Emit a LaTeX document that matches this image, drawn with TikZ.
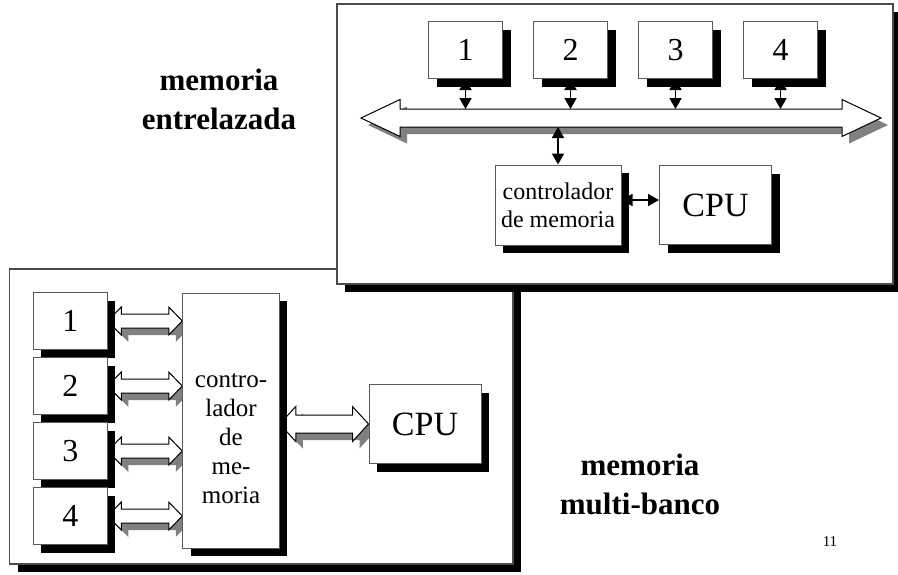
\documentclass[tikz,border=0pt]{standalone}
\usepackage{fontspec}
\setmainfont{Liberation Serif}
\usetikzlibrary{positioning,calc,shadows,arrows.meta}
\pgfdeclarelayer{panels}
\pgfdeclarelayer{wires}
\pgfsetlayers{panels,wires,main}
\tikzset{
  panel/.style={draw=black!70, fill=white, line width=.6pt, inner sep=0pt,
    drop shadow={shadow xshift=4.2pt, shadow yshift=-4.2pt, fill=black, opacity=1}},
  box/.style={draw=black!65, fill=white, line width=.5pt, inner sep=0pt, align=center,
    drop shadow={shadow xshift=4pt, shadow yshift=-4pt, fill=black, opacity=1}},
  mem/.style={box, minimum width=37pt, minimum height=28.5pt, font=\fontsize{16}{18}\selectfont},
  cpu/.style={box, minimum width=56pt, minimum height=39.5pt, font=\fontsize{17}{19}\selectfont},
  dart/.style={line width=.9pt, {Triangle[width=6pt,length=5.5pt]}-{Triangle[width=6pt,length=5.5pt]}},
  title/.style={align=center, font=\fontsize{15.5}{19.5}\selectfont\bfseries},
}
\newcommand\fatarrow[6]{%
  \fill[black!50] let \p1=($(#1)+(#6,-#6)$), \p2=($(#2)+(#6,-#6)$) in
    (\x1,\y1) -- (\x1+#5,\y1+#4) -- (\x1+#5,\y1+#3) -- (\x2-#5,\y1+#3) -- (\x2-#5,\y1+#4)
    -- (\x2,\y1) -- (\x2-#5,\y1-#4) -- (\x2-#5,\y1-#3) -- (\x1+#5,\y1-#3) -- (\x1+#5,\y1-#4) -- cycle;
  \draw[fill=white, line width=.5pt] let \p1=(#1), \p2=(#2) in
    (\x1,\y1) -- (\x1+#5,\y1+#4) -- (\x1+#5,\y1+#3) -- (\x2-#5,\y1+#3) -- (\x2-#5,\y1+#4)
    -- (\x2,\y1) -- (\x2-#5,\y1-#4) -- (\x2-#5,\y1-#3) -- (\x1+#5,\y1-#3) -- (\x1+#5,\y1-#4) -- cycle;
}

\begin{document}
\begin{tikzpicture}[x=.5pt, y=-.5pt]
  \useasboundingbox (0,0) rectangle (898,574);
  \begin{pgfonlayer}{panels}
    \node[panel, minimum width=251.75pt, minimum height=147.5pt] (multi) at (261.25,416.5) {};
    \node[panel, minimum width=278pt, minimum height=140pt] (entre) at (615,144) {};
  \end{pgfonlayer}

  \node[title] (t1) at (219,99) {memoria\\entrelazada};
  \node[title] (t2) at (640,484) {memoria\\multi-banco};
  \node[font=\fontsize{7.5}{9}\selectfont] (page) at (830,542) {11};

  % entrelazada
  \node[mem] (u1) at (465.5,50) {1};
  \node[mem, right=15pt of u1] (u2) {2};
  \node[mem, right=15pt of u2] (u3) {3};
  \node[mem, right=15pt of u3] (u4) {4};
  \node[box, minimum width=63pt, minimum height=40pt, font=\fontsize{12}{14}\selectfont] (uctl) at (558,205) {controlador\\de memoria};
  \node[cpu, right=18.75pt of uctl] (ucpu) {CPU};
  \coordinate (busl) at (361,118);
  \coordinate (busr) at (881,118);

  \begin{pgfonlayer}{wires}
    \fatarrow{busl}{busr}{4.5pt}{9.25pt}{19.5pt}{3.5pt}
    \foreach \i in {1,...,4}
      \draw[dart] (u\i.south) -- ($(u\i.south |- busl)+(0,4.5pt)$);
    \draw[dart] (uctl.north) -- ($(uctl.north |- busl)-(0,4.5pt)$);
    \draw[dart] ($(uctl.east)+(0,2.5pt)$) -- ($(ucpu.west)+(0,2.5pt)$);
  \end{pgfonlayer}

  % multi-banco
  \node[mem] (l1) at (70.25,321) {1};
  \node[mem, below=3.5pt of l1] (l2) {2};
  \node[mem, below=3.5pt of l2] (l3) {3};
  \node[mem, below=3.5pt of l3] (l4) {4};
  \node[box, minimum width=48.25pt, minimum height=127.5pt,
    label={[align=center, font=\fontsize{12.5}{14.5}\selectfont, yshift=-9pt]center:contro-\\lador\\de\\me-\\moria}] (lctl) at (231,420.5) {};
  \node[cpu] (lcpu) at (425,424) {CPU};

  \begin{pgfonlayer}{wires}
    \foreach \i in {1,...,4}{
      \coordinate (c\i) at (l\i.east -| lctl.west);
      \fatarrow{l\i.east}{c\i}{3.5pt}{7pt}{6.75pt}{3.5pt}
    }
    \coordinate (c5) at (lctl.east |- lcpu.west);
    \fatarrow{c5}{lcpu.west}{4.5pt}{8.75pt}{8pt}{3.5pt}
  \end{pgfonlayer}
\end{tikzpicture}
\end{document}
